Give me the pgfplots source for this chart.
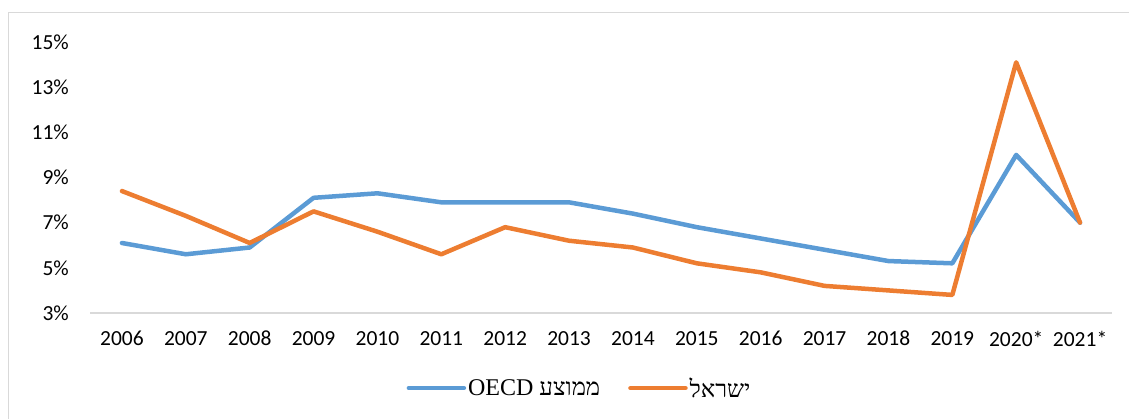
\documentclass[border=0pt]{standalone}
\usepackage{pgfplots}
\pgfplotsset{compat=1.18}
\usepackage{fontspec}
\setmainfont{Carlito}
\newfontfamily\heb[Script=Hebrew]{Liberation Serif}
\newfontfamily\tnr{Liberation Serif}
\TeXXeTstate=1
\definecolor{oecdblue}{HTML}{5B9BD5}
\definecolor{isrorange}{HTML}{ED7D31}
\definecolor{axgray}{HTML}{D9D9D9}
\begin{document}
\begin{tikzpicture}
\useasboundingbox (0,0) rectangle (1129pt,419pt);
\draw[axgray, line width=1.5pt] (8.5pt,0) -- (8.5pt,406.5pt) -- (1129pt,406.5pt);
\begin{axis}[
  at={(90pt,106pt)}, anchor=south west,
  scale only axis, width=1022pt, height=271pt,
  xmin=-0.5, xmax=15.5, ymin=3, ymax=15,
  axis x line*=bottom, axis y line*=left,
  x axis line style={axgray, line width=1.5pt, -},
  y axis line style={draw=none},
  xtick={0,...,15},
  xticklabels={2006,2007,2008,2009,2010,2011,2012,2013,2014,2015,2016,2017,2018,2019,2020*,2021*},
  ytick={3,5,7,9,11,13,15},
  yticklabel={\pgfmathprintnumber{\tick}\%},
  /pgf/number format/assume math mode=true,
  major tick length=0pt,
  tick label style={font=\fontsize{21.5}{25}\selectfont, text=black},
  xticklabel style={anchor=north, inner sep=0pt, yshift=-18pt},
  yticklabel style={anchor=east, inner sep=0pt, xshift=-21pt},
  legend columns=2,
  legend style={at={(0.479,-0.277)}, anchor=center, draw=none, fill=none,
    font=\fontsize{24}{28}\selectfont, /tikz/every even column/.append style={column sep=26pt}},
  legend image code/.code={\draw[#1] (0pt,0pt) -- (55pt,0pt);},
  clip=false,
]
\addplot[oecdblue, line width=4.5pt, line join=round, line cap=round] coordinates {
(0,6.1) (1,5.6) (2,5.9) (3,8.1) (4,8.3) (5,7.9) (6,7.9) (7,7.9) (8,7.4) (9,6.8) (10,6.3) (11,5.8) (12,5.3) (13,5.2) (14,10.0) (15,7.0)};
\addlegendentry{{\heb\beginR ממוצע \beginL OECD\endL\endR}}
\addplot[isrorange, line width=4.5pt, line join=round, line cap=round] coordinates {
(0,8.4) (1,7.3) (2,6.1) (3,7.5) (4,6.6) (5,5.6) (6,6.8) (7,6.2) (8,5.9) (9,5.2) (10,4.8) (11,4.2) (12,4.0) (13,3.8) (14,14.1) (15,7.0)};
\addlegendentry{{\heb\beginR ישראל\endR}}
\end{axis}
\end{tikzpicture}
\end{document}
